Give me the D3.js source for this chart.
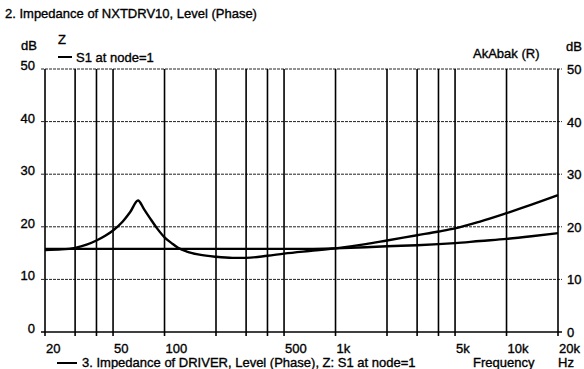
<!DOCTYPE html>
<html>
  <head>
    <title>Impedance of NXTDRV10</title>
    <style>
      body { margin: 0; background: #fff; }
      text { font-family: "Liberation Sans Narrow", "Arial Narrow", "Liberation Sans", sans-serif; font-size: 13px; fill: #000; stroke: #000; stroke-width: 0.35px; }
      .grid-h { stroke: #222; stroke-width: 1px; stroke-dasharray: 3,1; }
      .grid-v { stroke: #000; stroke-width: 1.6px; }
      .curve { fill: none; stroke: #000; stroke-width: 2.4px; }
    </style>
    <script src="https://cdn.jsdelivr.net/npm/d3@7"></script>
  </head>
  <body>
    <div id="chart"></div>
    <script type="text/javascript">
      var freqHz = [20, 25, 30, 35, 40, 45, 50, 57, 63, 70, 76, 82, 90, 100, 110, 120, 135, 160,
                    200, 250, 300, 400, 500, 700, 1000, 1500, 2000, 3000, 4000, 5000, 7000,
                    10000, 14000, 20000];
      // 2. Impedance of NXTDRV10 (dB)
      var levelNxt = [15.6, 15.7, 16.0, 16.6, 17.4, 18.3, 19.3, 21.0, 22.8, 25.0, 23.3, 21.7, 19.8,
                      18.0, 16.9, 16.0, 15.3, 14.7, 14.3, 14.1, 14.1, 14.5, 14.9, 15.4, 15.9,
                      16.7, 17.4, 18.4, 19.1, 19.7, 21.0, 22.6, 24.2, 26.0];
      // 3. Impedance of DRIVER (dB)
      var levelDriver = [15.8, 15.8, 15.8, 15.8, 15.8, 15.8, 15.8, 15.8, 15.8, 15.8, 15.8, 15.8, 15.8,
                         15.8, 15.8, 15.8, 15.8, 15.8, 15.8, 15.8, 15.8, 15.8, 15.8, 15.8, 15.9,
                         16.1, 16.3, 16.5, 16.7, 16.9, 17.3, 17.7, 18.2, 18.8];

      var gridFreqs = [20, 30, 40, 50, 100, 200, 300, 400, 500, 1000, 2000, 3000, 4000, 5000, 10000, 20000];
      var freqTicks = [20, 50, 100, 500, 1000, 5000, 10000, 20000];
      var freqLabels = ["20", "50", "100", "500", "1k", "5k", "10k", "20k"];
      var dbTicks = [0, 10, 20, 30, 40, 50];

      var width = 584, height = 369;
      var plotLeft = 45, plotRight = 558, plotTop = 69, plotBottom = 332;

      var x = d3.scaleLog().domain([20, 20000]).range([plotLeft, plotRight]);
      var y = d3.scaleLinear().domain([0, 50]).range([plotBottom, plotTop]);

      var svg = d3.select("#chart").append("svg")
        .attr("width", width)
        .attr("height", height);

      // horizontal grid (dashed), incl. top border
      svg.selectAll(".grid-h")
        .data(dbTicks.filter(function(d){return d > 0;}))
        .enter().append("line")
        .attr("class", "grid-h")
        .attr("x1", plotLeft - 4).attr("x2", plotRight + 4)
        .attr("y1", function(d){return y(d);})
        .attr("y2", function(d){return y(d);});

      // vertical grid
      svg.selectAll(".grid-v")
        .data(gridFreqs)
        .enter().append("line")
        .attr("class", "grid-v")
        .attr("x1", function(d){return x(d);})
        .attr("x2", function(d){return x(d);})
        .attr("y1", plotTop)
        .attr("y2", plotBottom + 4);

      // bottom axis line
      svg.append("line")
        .attr("x1", plotLeft - 4).attr("x2", plotRight + 4)
        .attr("y1", plotBottom).attr("y2", plotBottom)
        .style("stroke", "#000").style("stroke-width", 1.6);

      // curves
      var line = d3.line()
        .x(function(d){return x(d[0]);})
        .y(function(d){return y(d[1]);})
        .curve(d3.curveMonotoneX);

      svg.append("path").attr("class", "curve")
        .attr("d", line(d3.zip(freqHz, levelDriver)));
      svg.append("path").attr("class", "curve")
        .attr("d", line(d3.zip(freqHz, levelNxt)));

      // left y labels
      svg.selectAll(".ylab-l")
        .data(dbTicks)
        .enter().append("text")
        .attr("x", 35).attr("y", function(d){return y(d) + 1;})
        .attr("text-anchor", "end")
        .text(function(d){return d;});

      // right y labels
      svg.selectAll(".ylab-r")
        .data(dbTicks)
        .enter().append("text")
        .attr("x", 567).attr("y", function(d){return y(d) + 5;})
        .text(function(d){return d;});

      // x labels
      svg.selectAll(".xlab")
        .data(freqTicks)
        .enter().append("text")
        .attr("x", function(d){return x(d) + 1;})
        .attr("y", 353)
        .text(function(d, i){return freqLabels[i];});

      svg.append("text").attr("x", 5).attr("y", 18).text("2. Impedance of NXTDRV10, Level (Phase)");
      svg.append("text").attr("x", 21).attr("y", 50).text("dB");
      svg.append("text").attr("x", 566).attr("y", 51).text("dB");
      svg.append("text").attr("x", 58).attr("y", 44).text("Z");
      svg.append("line").attr("x1", 58).attr("x2", 72).attr("y1", 57).attr("y2", 57)
        .style("stroke", "#000").style("stroke-width", 2);
      svg.append("text").attr("x", 76).attr("y", 62).text("S1 at node=1");
      svg.append("text").attr("x", 473).attr("y", 58).text("AkAbak (R)");

      svg.append("line").attr("x1", 57).attr("x2", 77).attr("y1", 363).attr("y2", 363)
        .style("stroke", "#000").style("stroke-width", 2);
      svg.append("text").attr("x", 82).attr("y", 367).text("3. Impedance of DRIVER, Level (Phase), Z: S1 at node=1");
      svg.append("text").attr("x", 473).attr("y", 367).text("Frequency");
      svg.append("text").attr("x", 558).attr("y", 367).text("Hz");
    </script>
  </body>
</html>
